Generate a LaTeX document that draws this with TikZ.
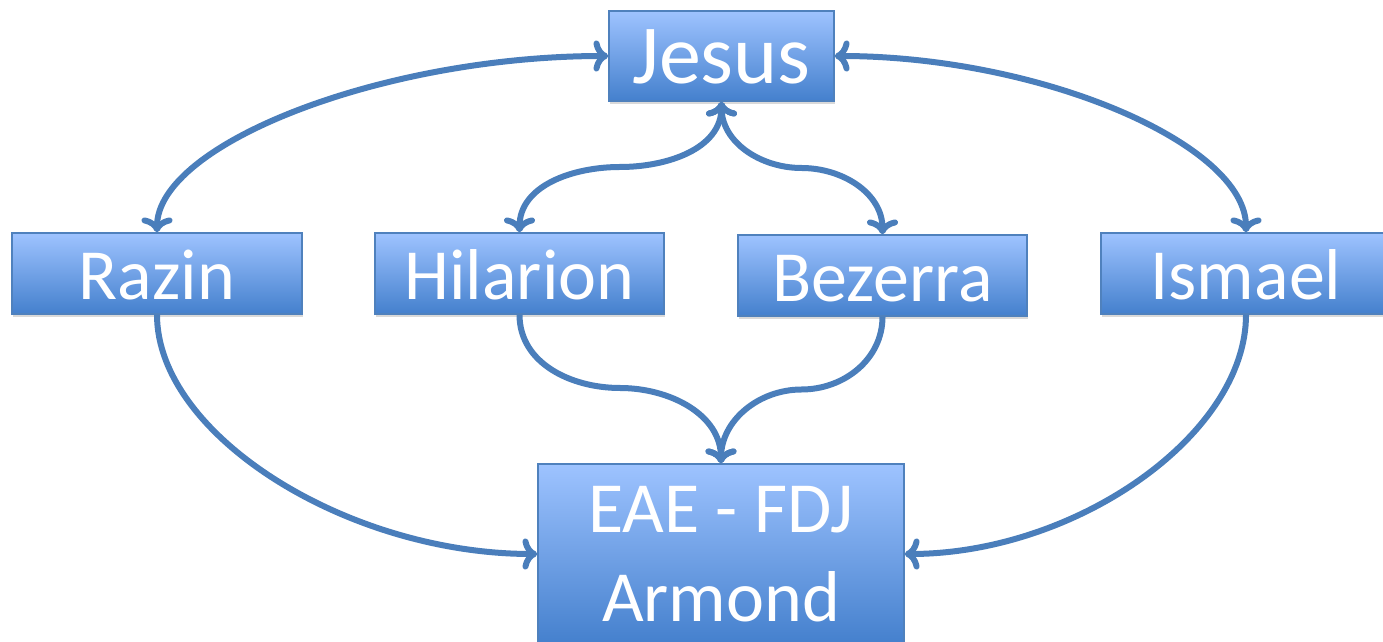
\documentclass[tikz,border=0pt]{standalone}
\usepackage{fontspec}
\setmainfont{Carlito}
\usetikzlibrary{arrows.meta,shadows}
\definecolor{boxline}{RGB}{79,129,189}
\definecolor{boxtop}{RGB}{158,195,255}
\definecolor{boxmid}{RGB}{122,166,234}
\definecolor{boxbot}{RGB}{68,128,205}
\definecolor{link}{RGB}{74,126,187}
\begin{document}
\begin{tikzpicture}[x=1pt,y=1pt,
	box/.style={draw=boxline,line width=1.5pt,top color=boxtop,middle color=boxmid,bottom color=boxbot,
		text=white,inner sep=0pt,font=\fontsize{72}{88}\selectfont,text height=67pt,text depth=14pt,
		minimum width=290pt,minimum height=81pt,drop shadow={shadow xshift=1pt,shadow yshift=-3pt,opacity=0.3}},
	link/.style={draw=link,line width=6pt,arrows={-Straight Barb[length=15pt,width=34pt,round]}}]
	\useasboundingbox (0,0) rectangle (1383,642);
	\node[box,minimum width=225pt,minimum height=90pt,text height=73pt,text depth=17pt,font=\fontsize{84}{100}\selectfont] (jesus) at (721.5,586) {Jesus};
	\node[box] (razin) at (157,368.5) {Razin};
	\node[box,minimum width=289pt] (hilarion) at (519.5,368.5) {Hilarion};
	\node[box,minimum width=289pt] (bezerra) at (882.5,366.5) {Bezerra};
	\node[box] (ismael) at (1246,368.5) {Ismael};
	\node[box,align=center,minimum width=366pt,text height=158pt,text depth=22pt,font=\fontsize{72}{89}\selectfont] (eae) at (721,88) {EAE - FDJ\\Armond};
	\coordinate (jh) at (620,475);
	\coordinate (jb) at (801.5,474);
	\coordinate (he) at (620,254);
	\coordinate (be) at (801.5,252.5);
	\draw[link,<->] (razin.north) .. controls +(0,88) and +(-226,0) .. (jesus.west);
	\draw[link,<->] (ismael.north) .. controls +(0,88) and +(206,0) .. (jesus.east);
	\draw[link,<->] (jesus.south) to[out=-90,in=0] (jh) to[out=180,in=90] (hilarion.north);
	\draw[link,<->] (jesus.south) to[out=-90,in=180] (jb) to[out=0,in=90] (bezerra.north);
	\draw[link,->] (hilarion.south) to[out=-90,in=180] (he) to[out=0,in=90] (eae.north);
	\draw[link,->] (bezerra.south) to[out=-90,in=0] (be) to[out=180,in=90] (eae.north);
	\draw[link,->] (razin.south) .. controls +(0,-120) and +(-190.5,0) .. (eae.west);
	\draw[link,->] (ismael.south) .. controls +(0,-120) and +(171,0) .. (eae.east);
\end{tikzpicture}
\end{document}
